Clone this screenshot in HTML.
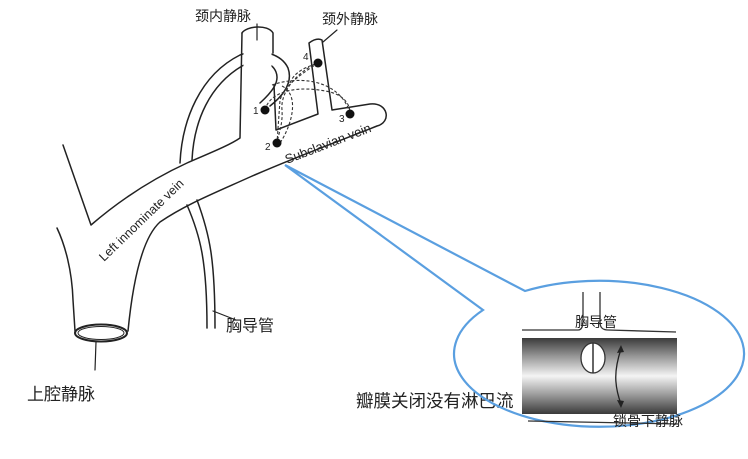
<!DOCTYPE html>
<html><head><meta charset="utf-8"><style>
html,body{margin:0;padding:0;background:#fff;}
svg{display:block;}
text{font-family:"Liberation Sans","Noto Sans CJK SC",sans-serif;fill:#222;}
</style></head><body>
<svg width="748" height="459" viewBox="0 0 748 459" xmlns="http://www.w3.org/2000/svg">
<defs>
<linearGradient id="g" x1="0" y1="0" x2="0" y2="1">
<stop offset="0" stop-color="#3a3a3a"/>
<stop offset="0.25" stop-color="#9a9a9a"/>
<stop offset="0.5" stop-color="#f4f4f4"/>
<stop offset="0.75" stop-color="#9a9a9a"/>
<stop offset="1" stop-color="#3a3a3a"/>
</linearGradient>
</defs>
<g fill="none" stroke="#222" stroke-width="1.5" stroke-linejoin="round" stroke-linecap="round">
<!-- thoracic duct -->
<path d="M180 163 C182 120 200 75 240 55 C262 47 282 55 288 68 C293 82 284 95 270 106"/>
<path d="M192 160 C194 120 210 85 242 66 C258 58 272 62 276 72 C280 82 272 92 260 103"/>
<path d="M187 205 C200 235 207 260 207 328"/>
<path d="M197 200 C210 235 215 260 215 328"/>
</g>
<rect x="243.5" y="30" width="28" height="42" fill="#fff"/>
<g fill="none" stroke="#222" stroke-width="1.5" stroke-linejoin="round" stroke-linecap="round">
<!-- left outline -->
<path d="M63 145 L91 225 C120 200 150 180 187 163 C210 153 230 145 240 138 L242 33"/>
<!-- IJV top -->
<path d="M242 33 C246 26 268 24 273 33 L273 53"/>
<path d="M274 85 L276 130 L318 114 L309 43 C313 40 318 38 322 40 L332 110 L370 104 C388 102 392 122 377 126 C350 137 300 155 250 177 C210 195 185 205 160 222 C140 240 132 290 128 331"/>
<!-- SVC left -->
<path d="M57 228 C65 245 72 270 73 300 L75 331"/>
<ellipse cx="101" cy="333" rx="26" ry="8.5" stroke-width="2"/>
<ellipse cx="101" cy="333" rx="23" ry="6.5" stroke-width="1"/>
<path d="M96 342 L95 370" stroke-width="1.2"/>
<!-- leaders -->
<path d="M257 24 L257 40" stroke-width="1.2"/>
<path d="M323 42 L337 30" stroke-width="1.2"/>
<path d="M213 311 L236 320" stroke-width="1.2"/>
</g>
<!-- dashed lines -->
<g fill="none" stroke="#333" stroke-width="1.1" stroke-dasharray="3,2">
<path d="M318 63 C300 75 285 85 280 100 L277 143"/>
<path d="M318 63 C300 70 280 90 282 110 C283 125 278 135 277 143"/>
<path d="M272 85 C300 75 340 80 350 113"/>
<path d="M265 110 C270 90 300 85 330 92 C345 96 350 105 350 113"/>
<path d="M290 83 C295 70 310 66 318 63"/>
<path d="M282 86 C300 95 292 125 280 143"/>
</g>
<g fill="#111">
<circle cx="318" cy="63" r="4.5"/><circle cx="265" cy="110" r="4.5"/>
<circle cx="350" cy="114" r="4.5"/><circle cx="277" cy="143" r="4.5"/>
</g>
<g font-size="10">
<text x="303" y="60">4</text><text x="253" y="114">1</text>
<text x="339" y="122">3</text><text x="265" y="150">2</text>
</g>
<text font-size="13" transform="translate(287,164) rotate(-21)">Subclavian vein</text>
<text font-size="12.5" transform="translate(104,262) rotate(-44)">Left innominate vein</text>
<text x="195" y="21" font-size="14">颈内静脉</text>
<text x="322" y="24" font-size="14">颈外静脉</text>
<text x="226" y="331" font-size="16">胸导管</text>
<text x="27" y="400" font-size="17">上腔静脉</text>
<text x="356" y="407" font-size="17.5">瓣膜关闭没有淋巴流</text>
<!-- blue callout -->
<path d="M483 310 L285 165 L525 291 A145 73 0 1 1 483 310 Z" fill="none" stroke="#5a9fe0" stroke-width="2.2" stroke-linejoin="miter"/>
<!-- inset -->
<rect x="522" y="338" width="155" height="76" fill="url(#g)"/>
<g fill="none" stroke="#333" stroke-width="1.3">
<path d="M522 330 L578 330 C582 330 583 326 583 320 L583 292"/>
<path d="M600 292 L600 322 C600 328 603 330 608 330 L676 332"/>
<path d="M528 421 L678 424"/>
</g>
<ellipse cx="593" cy="358" rx="12" ry="15" fill="#fff" stroke="#333" stroke-width="1.3"/>
<path d="M593 343 L593 373" stroke="#333" stroke-width="1.5"/>
<path d="M621 349 C614 370 614 385 621 404" fill="none" stroke="#222" stroke-width="1.3"/>
<path d="M621 345 L617 353 L624 352 Z M621 408 L617 400 L624 401 Z" fill="#222"/>
<text x="575" y="327" font-size="14">胸导管</text>
<text x="613" y="426" font-size="14">锁骨下静脉</text>
</svg>
</body></html>
